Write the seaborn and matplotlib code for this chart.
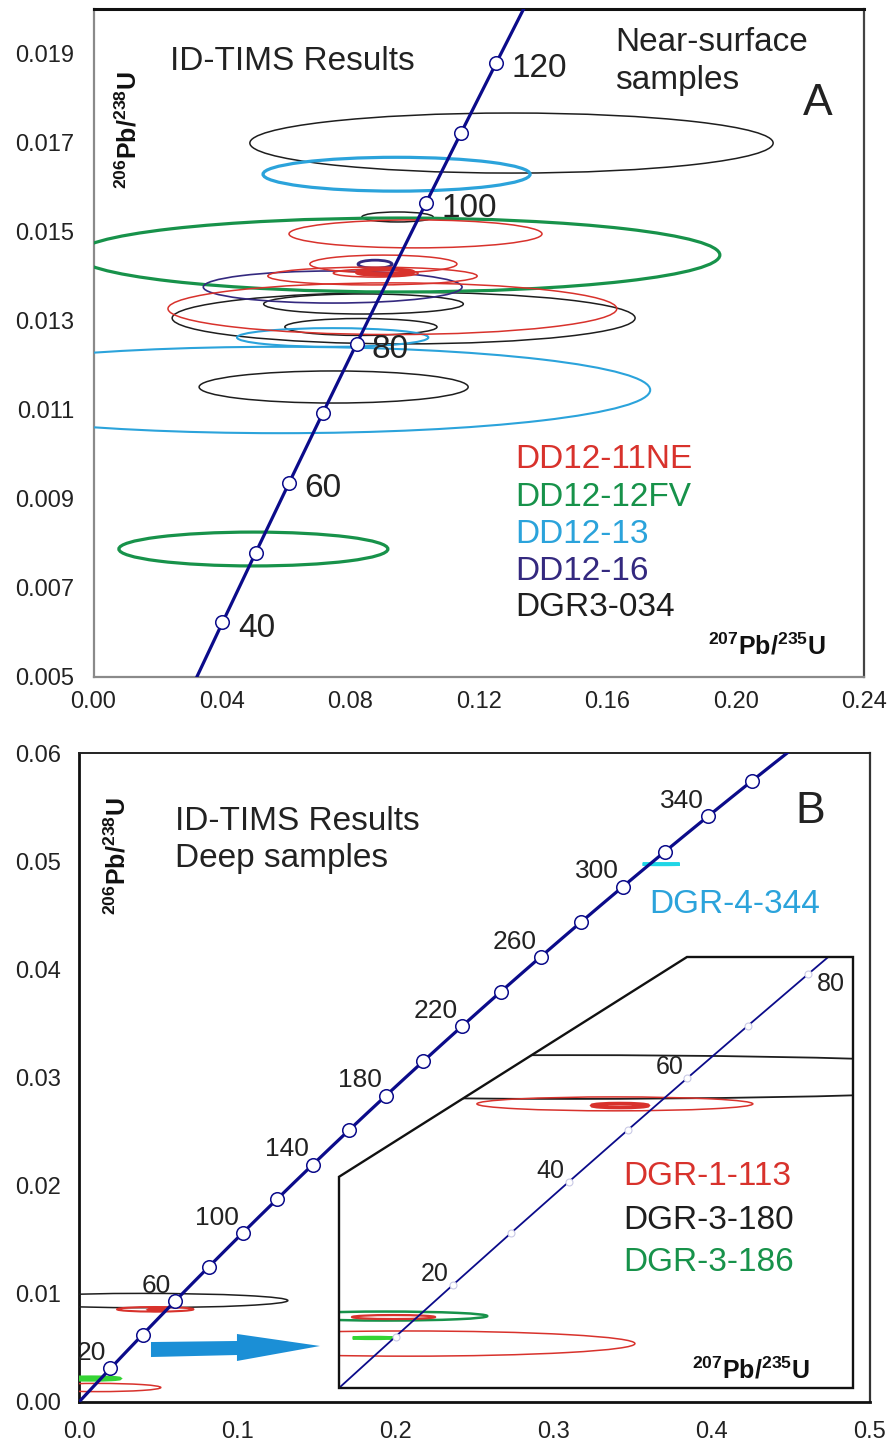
import numpy as np
import matplotlib
matplotlib.use('Agg')
import matplotlib.pyplot as plt
from matplotlib.patches import Ellipse, Polygon
import seaborn as sns

sns.set_style('white')
plt.rcParams['font.family'] = ['Liberation Sans', 'DejaVu Sans']
plt.rcParams['mathtext.fontset'] = 'custom'
plt.rcParams['mathtext.rm'] = 'Liberation Sans'
plt.rcParams['mathtext.bf'] = 'Liberation Sans:bold'

# concordia points (age in Ma, 207Pb/235U, 206Pb/238U)
conc_age = [0, 10, 20, 30, 40, 50, 60, 70, 80, 90, 100, 110, 120, 130, 140, 150, 160, 170, 180,
            190, 200, 210, 220, 230, 240, 250, 260, 270, 280, 290, 300, 310, 320, 330, 340,
            350, 360, 370, 380]
conc_x = [0.0, 0.00990, 0.01989, 0.02999, 0.04018, 0.05048, 0.06087, 0.07137, 0.08198, 0.09268,
          0.10350, 0.11442, 0.12545, 0.13658, 0.14784, 0.15920, 0.17067, 0.18226, 0.19396,
          0.20578, 0.21771, 0.22976, 0.24193, 0.25422, 0.26663, 0.27917, 0.29182, 0.30461,
          0.31752, 0.33057, 0.34372, 0.35704, 0.37044, 0.38403, 0.39770, 0.41156, 0.42550,
          0.43964, 0.45390]
conc_y = [0.0, 0.001553, 0.003107, 0.004665, 0.006224, 0.007786, 0.009351, 0.010918, 0.012487,
          0.014059, 0.015634, 0.017210, 0.018789, 0.020371, 0.021955, 0.023542, 0.025131,
          0.026722, 0.028316, 0.029912, 0.031511, 0.033113, 0.034717, 0.036323, 0.037932,
          0.039543, 0.041157, 0.042773, 0.044392, 0.046014, 0.047637, 0.049264, 0.050893,
          0.052525, 0.054158, 0.055795, 0.057434, 0.059075, 0.060719]

marks_a = [40, 50, 60, 70, 80, 100, 110, 120]
labels_a = [40, 60, 80, 100, 120]
marks_b = list(range(20, 361, 20))
labels_b = [20, 60, 100, 140, 180, 220, 260, 300, 340]
marks_in = [10, 20, 30, 40, 50, 60, 70, 80]
labels_in = [20, 40, 60, 80]

# near-surface samples: centre x, centre y, half-width, half-height
dd12_11ne = {'x': [0.1003, 0.0903, 0.0869, 0.0879, 0.0908, 0.0931],
             'y': [0.01495, 0.014274, 0.014004, 0.01407, 0.01409, 0.01327],
             'ex': [0.0394, 0.0229, 0.0326, 0.0132, 0.0087, 0.0699],
             'ey': [0.000314, 0.0002, 0.0002, 0.00009, 0.00006, 0.00058]}
dd12_12fv = {'x': [0.0949, 0.0498],
             'y': [0.014476, 0.007874],
             'ex': [0.1002, 0.0419],
             'ey': [0.00083, 0.00038]}
dd12_13 = {'x': [0.0944, 0.0745, 0.0581],
           'y': [0.01629, 0.012624, 0.011445],
           'ex': [0.0416, 0.0298, 0.1153],
           'ey': [0.00038, 0.00021, 0.00097]}
dd12_16 = {'x': [0.0877, 0.0745],
           'y': [0.01427, 0.013757],
           'ex': [0.0053, 0.0403],
           'ey': [0.00009, 0.00036]}
dgr3_034 = {'x': [0.1302, 0.0947, 0.0966, 0.0841, 0.0833, 0.0748],
            'y': [0.01699, 0.01533, 0.01306, 0.013376, 0.01286, 0.011512],
            'ex': [0.0815, 0.0111, 0.0721, 0.0311, 0.0237, 0.0419],
            'ey': [0.000674, 0.000112, 0.00058, 0.000225, 0.00019, 0.00036]}

# deep samples
dgr1_113 = {'x': [0.0482, 0.0491, 0.00953, 0.012],
            'y': [0.00857, 0.00852, 0.00214, 0.00134],
            'ex': [0.0241, 0.0049, 0.00725, 0.0397],
            'ey': [0.00021, 0.00006, 0.00006, 0.00038]}
dgr3_180 = {'x': [0.040], 'y': [0.00938], 'ex': [0.092], 'ey': [0.00066]}
dgr3_186 = {'x': [0.008], 'y': [0.00217], 'ex': [0.0179], 'ey': [0.000136]}
dgr3_186b = {'x': [0.0059], 'y': [0.00151], 'ex': [0.0035], 'ey': [0.00002]}
dgr4_344 = {'x': [0.368], 'y': [0.04972], 'ex': [0.0117], 'ey': [0.00003]}

red = '#d8322c'
green = '#17924a'
lblue = '#2ba3db'
purple = '#34297f'
black = '#1e1e1e'
navy = '#0b0b8a'
cyan = '#1fd6e6'
bgreen = '#35d435'
txt = '#222222'

conc = dict(zip(conc_age, zip(conc_x, conc_y)))


def add_ellipses(ax, d, color, lw, clip=None, z=3):
    lws = lw if isinstance(lw, list) else [lw] * len(d['x'])
    for x, y, ex, ey, w in zip(d['x'], d['y'], d['ex'], d['ey'], lws):
        e = Ellipse((x, y), 2 * ex, 2 * ey, fill=False, ec=color, lw=w, zorder=z)
        ax.add_patch(e)
        if clip is not None:
            e.set_clip_path(clip)


def draw_concordia(ax, ages, lw, s, mec, mlw, clip=None):
    sns.lineplot(x=conc_x, y=conc_y, sort=False, color=navy, lw=lw, ax=ax, zorder=5)
    line = ax.lines[-1]
    sns.scatterplot(x=[conc[a][0] for a in ages], y=[conc[a][1] for a in ages], s=s,
                    color='white', edgecolor=mec, linewidth=mlw, ax=ax, zorder=6)
    if clip is not None:
        line.set_clip_path(clip)
        ax.collections[-1].set_clip_path(clip)


fig = plt.figure(figsize=(8.91, 14.41), dpi=100)

# ---------------- panel A
axA = fig.add_axes([93.5 / 891, 764 / 1441, 770.5 / 891, 668 / 1441])
axA.set_xlim(0, 0.24)
axA.set_ylim(0.005, 0.020)

add_ellipses(axA, dgr3_034, black, 1.1)
add_ellipses(axA, dd12_13, lblue, [2.3, 1.5, 1.5])
add_ellipses(axA, dd12_12fv, green, 2.3)
add_ellipses(axA, dd12_16, purple, [2.0, 1.2])
add_ellipses(axA, dd12_11ne, red, [1.1, 1.1, 1.1, 1.1, 3.0, 1.1])

draw_concordia(axA, marks_a, 2.3, 95, navy, 1.1)
for a in labels_a:
    axA.annotate(str(a), conc[a], xytext=(11, -4), textcoords='offset points',
                 ha='left', va='center', fontsize=24, color=txt, zorder=7)

axA.set_xticks(np.arange(0, 0.2401, 0.04))
axA.set_xticks(np.arange(0, 0.2401, 0.02), minor=True)
axA.set_xticklabels(['%.2f' % v for v in np.arange(0, 0.2401, 0.04)])
axA.set_yticks(np.arange(0.005, 0.0195, 0.002))
axA.set_yticks(np.arange(0.005, 0.0201, 0.001), minor=True)
axA.set_yticklabels(['%.3f' % v for v in np.arange(0.005, 0.0195, 0.002)])
axA.tick_params(which='both', direction='in', length=4, width=1, color='#777777',
                labelsize=17, labelcolor=txt)
axA.tick_params(axis='x', pad=10)
axA.tick_params(axis='y', pad=14)
for side, c, w in [('left', '#8a8a8a', 1.6), ('bottom', '#8a8a8a', 1.6),
                   ('top', '#111111', 2.2), ('right', '#444444', 1.6)]:
    axA.spines[side].set_color(c)
    axA.spines[side].set_linewidth(w)

axA.text(0.099, 0.922, 'ID-TIMS Results', transform=axA.transAxes, fontsize=24,
         color=txt, ha='left', va='center')
axA.text(0.677, 0.921, 'Near-surface\nsamples', transform=axA.transAxes, fontsize=24,
         color=txt, ha='left', va='center', linespacing=1.3)
axA.text(0.940, 0.859, 'A', transform=axA.transAxes, fontsize=32, color=txt,
         ha='center', va='center')
axA.text(0.0448, 0.819, r'$\mathbf{^{206}Pb/^{238}U}$', transform=axA.transAxes,
         fontsize=18, rotation=90, ha='center', va='center', color='#111111')
axA.text(0.874, 0.0464, r'$\mathbf{^{207}Pb/^{235}U}$', transform=axA.transAxes,
         fontsize=18, ha='center', va='center', color='#111111')

legend_a = [('DD12-11NE', red), ('DD12-12FV', green), ('DD12-13', lblue),
            ('DD12-16', purple), ('DGR3-034', black)]
for (name, c), yy in zip(legend_a, [0.3249, 0.268, 0.2126, 0.1572, 0.1033]):
    axA.text(0.547, yy, name, transform=axA.transAxes, fontsize=24, color=c,
             ha='left', va='center')

# ---------------- panel B
axB = fig.add_axes([79 / 891, 39 / 1441, 791 / 891, 649 / 1441])
axB.set_xlim(0, 0.5)
axB.set_ylim(0, 0.06)

add_ellipses(axB, dgr3_180, black, 1.1)
add_ellipses(axB, dgr1_113, red, [1.5, 2.5, 1.1, 1.1])
add_ellipses(axB, dgr3_186, bgreen, 2.4)
add_ellipses(axB, dgr4_344, cyan, 2.4)

draw_concordia(axB, marks_b, 2.3, 95, navy, 1.1)
for a in labels_b:
    axB.annotate(str(a), conc[a], xytext=(-3, 11), textcoords='offset points',
                 ha='right', va='center', fontsize=19, color=txt, zorder=7)

axB.set_xticks(np.arange(0, 0.501, 0.1))
axB.set_xticks(np.arange(0, 0.501, 0.05), minor=True)
axB.set_xticklabels(['%.1f' % v for v in np.arange(0, 0.501, 0.1)])
axB.set_yticks(np.arange(0, 0.0601, 0.01))
axB.set_yticks(np.arange(0, 0.0601, 0.005), minor=True)
axB.set_yticklabels(['%.2f' % v for v in np.arange(0, 0.0601, 0.01)])
axB.tick_params(which='both', direction='in', length=4, width=1, color='#333333',
                labelsize=17, labelcolor=txt)
axB.tick_params(axis='x', pad=14)
axB.tick_params(axis='y', pad=13)
for side, c, w in [('left', '#111111', 2.0), ('bottom', '#111111', 2.0),
                   ('top', '#222222', 1.4), ('right', '#333333', 1.6)]:
    axB.spines[side].set_color(c)
    axB.spines[side].set_linewidth(w)

axB.text(0.1214, 0.866, 'ID-TIMS Results\nDeep samples', transform=axB.transAxes,
         fontsize=24, color=txt, ha='left', va='center', linespacing=1.25)
axB.text(0.924, 0.9106, 'B', transform=axB.transAxes, fontsize=32, color=txt,
         ha='center', va='center')
axB.text(0.048, 0.841, r'$\mathbf{^{206}Pb/^{238}U}$', transform=axB.transAxes,
         fontsize=18, rotation=90, ha='center', va='center', color='#111111')
axB.text(0.8496, 0.0493, r'$\mathbf{^{207}Pb/^{235}U}$', transform=axB.transAxes,
         fontsize=18, ha='center', va='center', color='#111111')
axB.text(0.7206, 0.7658, 'DGR-4-344', transform=axB.transAxes, fontsize=24,
         color=lblue, ha='left', va='center')
legend_b = [('DGR-1-113', red), ('DGR-3-180', black), ('DGR-3-186', green)]
for (name, c), yy in zip(legend_b, [0.3467, 0.2804, 0.2142]):
    axB.text(0.6877, yy, name, transform=axB.transAxes, fontsize=24, color=c,
             ha='left', va='center', zorder=8)

arrow = Polygon([(0.0910, 0.0924), (0.1997, 0.0940), (0.1997, 0.1048), (0.3047, 0.0863),
                 (0.1997, 0.0632), (0.1997, 0.0724), (0.0910, 0.0693)], closed=True,
                transform=axB.transAxes, fc='#1b8fd6', ec='none', zorder=4)
axB.add_patch(arrow)

# ---------------- zoomed inset inside panel B
axI = fig.add_axes([339 / 891, 53 / 1441, 514 / 891, 431 / 1441])
axI.set_xlim(0, 0.0898)
axI.set_ylim(0, 0.0130)
axI.axis('off')
frame = Polygon([(0, 0), (1, 0), (1, 1), (0.677, 1), (0, 0.49)], closed=True,
                transform=axI.transAxes, fill=False, ec='#111111', lw=1.7, zorder=9,
                clip_on=False)
axI.add_patch(frame)

add_ellipses(axI, dgr3_180, black, 1.3, clip=frame)
add_ellipses(axI, dgr3_186, green, 1.8, clip=frame)
add_ellipses(axI, dgr1_113, red, [1.1, 2.6, 1.6, 1.1], clip=frame)
add_ellipses(axI, dgr3_186b, bgreen, 2.2, clip=frame)
draw_concordia(axI, marks_in, 1.3, 25, '#c9c9e6', 0.8, clip=frame)
for a in labels_in:
    off, ha = ((6, -7), 'left') if a == 80 else ((-3, 8), 'right')
    axI.annotate(str(a), conc[a], xytext=off, textcoords='offset points',
                 ha=ha, va='center', fontsize=18, color=txt, zorder=7)

fig.savefig('out.png', dpi=100)
